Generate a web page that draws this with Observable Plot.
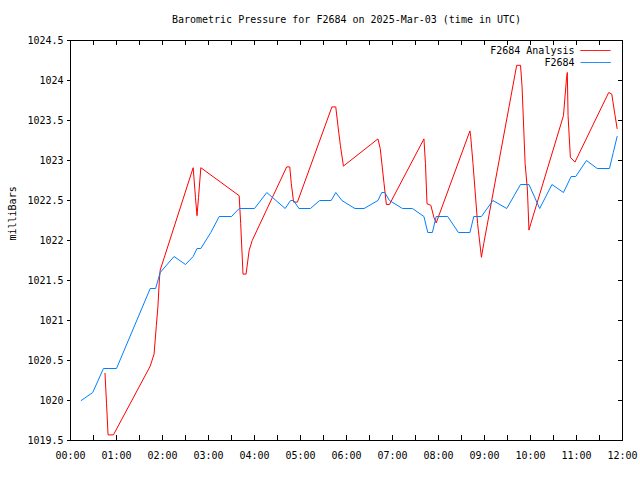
<!DOCTYPE html>
<html>
<head>
<meta charset="utf-8">
<script src="https://cdn.jsdelivr.net/npm/d3@7"></script>
<script src="https://cdn.jsdelivr.net/npm/@observablehq/plot@0.6"></script>
<style>
  html, body { margin: 0; padding: 0; background: #ffffff; }
  #chart { width: 640px; height: 480px; }
</style>
</head>
<body>
<div id="chart"></div>
<script>
// ---- Data (minutes after 00:00 UTC, pressure in millibars) ----
const stationMinutes = [14, 29, 43, 60, 104, 111, 117, 135, 150, 160, 165, 170, 183, 194, 210, 220, 240, 256, 280, 287, 291, 298, 313, 325, 340, 346, 354, 371, 383, 401, 406, 410, 416, 433, 446, 461, 466, 472, 477, 492, 506, 521, 526, 536, 551, 569, 587, 598, 612, 628, 643, 653, 659, 673, 687, 703, 708, 713];
const stationValues  = [1020.0, 1020.1, 1020.4, 1020.4, 1021.4, 1021.4, 1021.6, 1021.8, 1021.7, 1021.8, 1021.9, 1021.9, 1022.1, 1022.3, 1022.3, 1022.4, 1022.4, 1022.6, 1022.4, 1022.5, 1022.5, 1022.4, 1022.4, 1022.5, 1022.5, 1022.6, 1022.5, 1022.4, 1022.4, 1022.5, 1022.6, 1022.6, 1022.5, 1022.4, 1022.4, 1022.3, 1022.1, 1022.1, 1022.3, 1022.3, 1022.1, 1022.1, 1022.3, 1022.3, 1022.5, 1022.4, 1022.7, 1022.7, 1022.4, 1022.7, 1022.6, 1022.8, 1022.8, 1023.0, 1022.9, 1022.9, 1023.1, 1023.3];

const analysisMinutes = [45, 47, 49, 56, 104, 109, 112, 114, 116, 117, 160, 161, 163, 165, 167, 170, 220, 222, 225, 229, 233, 237, 282, 286, 288, 291, 296, 341, 346, 349, 352, 356, 401, 404, 409, 412, 416, 461, 463, 465, 470, 474, 477, 521, 522, 525, 531, 536, 539, 582, 587, 589, 593, 596, 598, 601, 643, 647, 648, 649, 652, 658, 702, 706, 710, 713];
const analysisValues  = [1020.34, 1019.96, 1019.57, 1019.57, 1020.43, 1020.58, 1020.94, 1021.17, 1021.52, 1021.63, 1022.91, 1022.79, 1022.54, 1022.31, 1022.54, 1022.91, 1022.56, 1022.21, 1021.58, 1021.58, 1021.875, 1022.0, 1022.92, 1022.92, 1022.71, 1022.48, 1022.48, 1023.67, 1023.67, 1023.42, 1023.19, 1022.93, 1023.27, 1023.15, 1022.71, 1022.45, 1022.45, 1023.27, 1022.96, 1022.46, 1022.44, 1022.29, 1022.22, 1023.37, 1023.3, 1022.96, 1022.21, 1021.79, 1021.96, 1024.19, 1024.19, 1023.92, 1022.96, 1022.63, 1022.13, 1022.23, 1023.56, 1024.03, 1024.1, 1023.56, 1023.04, 1022.98, 1023.85, 1023.83, 1023.58, 1023.40];

const xLabelMinutes = [0, 60, 120, 180, 240, 300, 360, 420, 480, 540, 600, 660, 720];
const xTickLabels = ["00:00", "01:00", "02:00", "03:00", "04:00", "05:00", "06:00", "07:00", "08:00", "09:00", "10:00", "11:00", "12:00"];
const xMinorMinutes = [0, 30, 60, 90, 120, 150, 180, 210, 240, 270, 300, 330, 360, 390, 420, 450, 480, 510, 540, 570, 600, 630, 660, 690, 720];
const yTicks = [1019.5, 1020, 1020.5, 1021, 1021.5, 1022, 1022.5, 1023, 1023.5, 1024, 1024.5];

const seriesNames = ["F2684 Analysis", "F2684"];
const seriesColors = ["#ff0000", "#0080ff"];
const titleText = "Barometric Pressure for F2684 on 2025-Mar-03 (time in UTC)";
const yLabelText = "milliBars";
const swatchText = "\u2500\u2500\u2500\u2500\u2500";

// ---- Build tables ----
const station = stationMinutes.map((t, i) => ({t, v: stationValues[i]}));
const analysis = analysisMinutes.map((t, i) => ({t, v: analysisValues[i]}));

const FONT = "'DejaVu Sans Mono', 'Liberation Mono', monospace";
const FS = "10px";

const chart = Plot.plot({
  width: 640,
  height: 480,
  marginLeft: 70,
  marginRight: 18,
  marginTop: 40,
  marginBottom: 40,
  style: {fontFamily: FONT, fontSize: FS, background: "#ffffff", color: "#000000", overflow: "visible"},
  x: {type: "linear", domain: [0, 720]},
  y: {type: "linear", domain: [1019.5, 1024.5]},
  marks: [
    // data lines
    Plot.line(analysis, {x: "t", y: "v", stroke: seriesColors[0], strokeWidth: 1}),
    Plot.line(station, {x: "t", y: "v", stroke: seriesColors[1], strokeWidth: 1}),
    // frame
    Plot.frame({stroke: "#000000", strokeWidth: 1}),
    // x axis labels
    Plot.axisX({
      ticks: xLabelMinutes, tickSize: 0, tickPadding: 11,
      tickFormat: d => xTickLabels[xLabelMinutes.indexOf(d)],
      label: null, fontSize: FS, fill: "#000000"
    }),
    // inward ticks, bottom and top
    Plot.tickX(xMinorMinutes, {x: d => d, insetTop: 395, stroke: "#000000"}),
    Plot.tickX(xMinorMinutes, {x: d => d, insetBottom: 395, stroke: "#000000"}),
    // y axis (left, outward ticks)
    Plot.axisY({
      ticks: yTicks, tickSize: 3, tickPadding: 4,
      tickFormat: d => String(d), label: null, fontSize: FS, fill: "#000000"
    }),
    // right side inward ticks
    Plot.tickY(yTicks, {y: d => d, insetLeft: 548, stroke: "#000000"}),
    // title
    Plot.text([titleText], {frameAnchor: "top", dy: -21, lineAnchor: "middle", fill: "#000000", fontSize: FS}),
    // y label
    Plot.text([yLabelText], {frameAnchor: "left", dx: -58, rotate: -90, lineAnchor: "middle", fill: "#000000", fontSize: FS}),
    // legend text
    Plot.text([seriesNames[0]], {frameAnchor: "top-right", textAnchor: "end", lineAnchor: "middle", dx: -48, dy: 10, fill: "#000000", fontSize: FS}),
    Plot.text([seriesNames[1]], {frameAnchor: "top-right", textAnchor: "end", lineAnchor: "middle", dx: -48, dy: 22.5, fill: "#000000", fontSize: FS}),
    // legend swatches
    Plot.text([swatchText], {frameAnchor: "top-right", textAnchor: "end", lineAnchor: "middle", dx: -12, dy: 10, fill: seriesColors[0], fontSize: FS}),
    Plot.text([swatchText], {frameAnchor: "top-right", textAnchor: "end", lineAnchor: "middle", dx: -12, dy: 22.5, fill: seriesColors[1], fontSize: FS})
  ]
});
document.getElementById("chart").appendChild(chart);
</script>
</body>
</html>
